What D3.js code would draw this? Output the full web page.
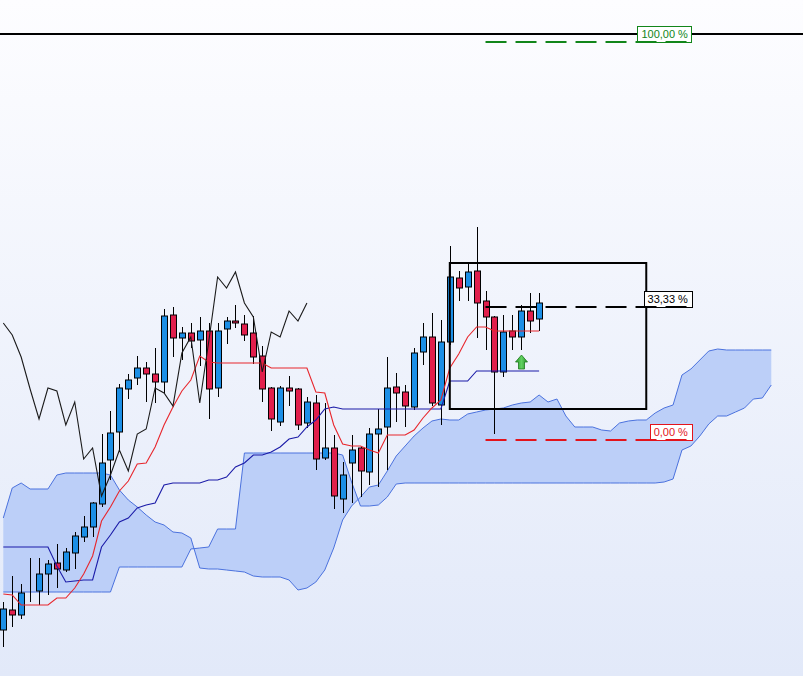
<!DOCTYPE html>
<html>
<head>
<meta charset="utf-8">
<script src="https://cdn.jsdelivr.net/npm/d3@7"></script>
<style>
  html, body { margin: 0; padding: 0; background: #fff; }
  svg { display: block; }
</style>
</head>
<body>
<div id="chart"></div>
<script>
/* ─────────────────────────────────────────────────────────
   DATA  (prices, one entry per period)
───────────────────────────────────────────────────────── */
const opens = [7.0, 9.0, 8.5, 11.5, 10.9, 12.6, 13.7, 13.0, 14.7, 16.3,
  17.3, 19.6, 24.0, 26.8, 31.1, 32.2, 33.2, 32.6, 31.8, 38.5,
  36.2, 36.7, 36.0, 36.9, 31.2, 37.1, 37.9, 37.6, 36.7, 34.4,
  31.2, 27.8, 31.2, 31.1, 27.7, 29.7, 24.2, 25.2, 20.1, 23.7,
  25.2, 22.8, 26.6, 27.3, 31.3, 30.8, 29.3, 34.8, 36.3, 29.5,
  35.8, 42.2, 41.3, 42.9, 39.9, 38.3, 32.8, 36.9, 36.3, 38.9,
  38.1];
const highs = [9.8, 12.4, 11.6, 14.2, 14.2, 14.0, 15.6, 15.2, 16.8, 18.4,
  19.8, 26.6, 28.9, 31.6, 32.6, 34.4, 33.8, 35.2, 39.1, 39.3,
  37.3, 37.7, 38.3, 37.7, 37.7, 38.3, 39.5, 38.5, 38.4, 35.4,
  31.3, 31.4, 32.4, 31.2, 30.3, 30.5, 29.7, 26.5, 23.8, 26.5,
  25.3, 27.2, 29.1, 34.3, 32.7, 31.5, 35.2, 37.7, 38.7, 38.0,
  45.4, 42.9, 43.7, 47.3, 40.9, 38.4, 38.5, 38.5, 39.5, 40.7,
  40.7];
const lows = [5.3, 7.3, 8.1, 9.8, 9.5, 10.5, 11.2, 12.8, 13.1, 15.8,
  16.3, 19.3, 22.0, 24.8, 30.1, 31.5, 29.8, 29.7, 30.7, 34.3,
  34.0, 35.2, 33.4, 28.1, 30.3, 35.6, 37.2, 35.9, 33.6, 29.8,
  26.9, 27.4, 29.4, 27.0, 27.2, 23.0, 24.0, 19.1, 18.7, 19.7,
  20.3, 21.5, 21.3, 23.0, 27.8, 27.3, 29.0, 33.5, 29.4, 27.5,
  35.5, 39.9, 39.9, 36.2, 35.0, 26.6, 32.3, 35.0, 35.0, 36.7,
  36.9];
const closes = [9.1, 8.5, 10.7, 11.5, 12.6, 13.6, 13.1, 14.8, 16.4, 17.3,
  19.7, 23.7, 26.7, 31.2, 32.0, 33.2, 32.6, 31.8, 38.4, 36.2,
  36.7, 35.9, 36.9, 31.1, 36.9, 37.9, 37.7, 36.5, 34.3, 31.1,
  28.1, 31.2, 30.9, 27.5, 29.8, 24.1, 25.2, 20.4, 22.5, 25.0,
  22.9, 26.6, 27.1, 31.2, 30.7, 29.4, 34.7, 36.3, 29.7, 35.8,
  42.3, 41.2, 42.8, 39.7, 38.3, 32.8, 36.8, 36.3, 38.9, 37.9,
  39.7];

// Tenkan-sen / Kijun-sen, one value per candle
const tenkan = [10.6, 10.5, 9.5, 9.5, 9.5, 9.5, 10.2, 10.2, 11.2, 12.6,
  14.4, 17.9, 19.3, 20.9, 21.9, 23.6, 23.7, 25.3, 27.5, 29.3,
  30.9, 32.0, 34.4, 33.8, 33.7, 33.7, 33.7, 33.7, 33.7, 33.7,
  33.2, 33.2, 33.2, 33.2, 33.2, 30.8, 30.7, 27.5, 25.6, 25.4,
  25.4, 25.0, 24.7, 26.5, 26.5, 26.5, 27.0, 28.2, 29.2, 30.0,
  33.2, 34.6, 36.3, 37.3, 37.3, 36.9, 36.9, 36.9, 36.9, 36.9,
  36.9];
const kijun = [15.3, 15.3, 15.3, 15.3, 15.3, 15.3, 13.4, 11.8, 11.9, 12.0,
  12.0, 15.3, 16.5, 17.8, 18.2, 19.2, 19.5, 19.7, 21.5, 21.7,
  21.7, 21.7, 21.7, 22.0, 22.0, 22.3, 23.3, 23.7, 24.5, 24.5,
  24.8, 25.3, 26.1, 26.3, 27.3, 28.0, 29.1, 29.3, 29.1, 29.1,
  29.1, 29.1, 29.1, 29.1, 29.1, 29.1, 29.1, 29.1, 29.1, 29.1,
  31.9, 31.9, 31.9, 32.9, 32.9, 32.9, 32.9, 32.9, 32.9, 32.9,
  32.9];

// Senkou spans as plotted (already 26 periods ahead), periods 0..86
const senkouA = [18.2, 21.2, 21.7, 21.1, 21.1, 21.1, 22.5, 22.7, 22.7, 22.7,
  22.7, 22.7, 22.5, 21.0, 20.0, 19.3, 18.5, 17.8, 17.5, 16.8,
  16.7, 16.2, 13.2, 13.1, 13.1, 13.0, 12.9, 12.8, 12.4, 12.3,
  12.3, 12.3, 12.0, 11.0, 11.2, 11.8, 13.0, 15.2, 18.0, 19.4,
  20.3, 21.3, 21.5, 22.9, 24.4, 25.4, 26.4, 27.2, 27.9, 28.1,
  28.0, 28.0, 28.6, 28.8, 29.0, 29.1, 29.2, 29.5, 29.7, 29.8,
  30.5, 29.8, 30.1, 28.4, 27.3, 27.3, 27.3, 27.0, 26.9, 27.7,
  27.9, 28.0, 28.0, 28.7, 29.2, 29.5, 32.5, 33.1, 34.0, 34.9,
  35.1, 35.0, 35.0, 35.0, 35.0, 35.0, 35.0];
const senkouB = [10.8, 10.8, 10.8, 10.8, 10.8, 10.8, 10.8, 10.8, 10.8, 10.8,
  10.8, 10.8, 10.8, 13.3, 13.3, 13.3, 13.3, 13.3, 13.3, 13.3,
  13.3, 15.1, 15.2, 15.3, 17.1, 17.1, 17.1, 24.7, 24.7, 24.7,
  24.7, 24.7, 24.7, 24.7, 24.7, 24.7, 24.7, 24.7, 24.5, 21.8,
  19.4, 19.4, 19.5, 20.3, 21.6, 21.7, 21.7, 21.7, 21.7, 21.7,
  21.7, 21.7, 21.7, 21.7, 21.7, 21.7, 21.7, 21.7, 21.7, 21.7,
  21.7, 21.7, 21.7, 21.7, 21.7, 21.7, 21.7, 21.7, 21.7, 21.7,
  21.7, 21.7, 21.7, 21.7, 21.8, 22.1, 25.0, 25.4, 26.4, 27.6,
  28.4, 28.4, 28.8, 29.2, 30.1, 30.2, 31.5];

const CHIKOU_SHIFT = 26;          // chikou = close plotted 26 periods back

// Fibonacci retracement drawn from the swing
const fibRatios = [1, 0.3333, 0];
const fibLabels = ["100,00 %", "33,33 %", "0,00 %"];
const fibLow = 26.0, fibHigh = 65.8;
const fibFrom = 54, fibTo = 77;

// Box around the consolidation, horizontal level, buy signal
const boxFrom = 50, boxTo = 72, boxTop = 43.7, boxBottom = 29.1;
const levelPrice = 66.6;
const signalAt = 58, signalPrice = 33.0;

/* ─────────────────────────────────────────────────────────
   CHART
───────────────────────────────────────────────────────── */
const W = 803, H = 676;
const x = d3.scaleLinear().domain([0, 60]).range([3.3, 539.1]);
const y = d3.scaleLinear().domain([0, 70]).range([700, 0]);
const px = v => Math.round(v) + 0.5;

const svg = d3.select("#chart").append("svg")
  .attr("width", W).attr("height", H);

const defs = svg.append("defs");
const bg = defs.append("linearGradient").attr("id", "bg")
  .attr("x1", 0).attr("y1", 0).attr("x2", 0).attr("y2", 1);
bg.append("stop").attr("offset", "0%").attr("stop-color", "#fdfdff");
bg.append("stop").attr("offset", "100%").attr("stop-color", "#e2e9f9");
const ag = defs.append("linearGradient").attr("id", "arrowFill")
  .attr("x1", 0).attr("y1", 0).attr("x2", 1).attr("y2", 0);
ag.append("stop").attr("offset", "0%").attr("stop-color", "#2e9a2e");
ag.append("stop").attr("offset", "50%").attr("stop-color", "#5fd05f");
ag.append("stop").attr("offset", "100%").attr("stop-color", "#2a8f2a");

svg.append("rect").attr("width", W).attr("height", H).attr("fill", "url(#bg)");

// Kumo
const cloudIdx = d3.range(senkouA.length);
svg.append("path").datum(cloudIdx)
  .attr("fill", "#bccff8")
  .attr("d", d3.area().x(i => x(i)).y0(i => y(senkouA[i])).y1(i => y(senkouB[i])));
[senkouA, senkouB].forEach(s => {
  svg.append("path").datum(cloudIdx)
    .attr("fill", "none").attr("stroke", "#4b72de").attr("stroke-width", 1)
    .attr("d", d3.line().x(i => x(i)).y(i => y(s[i])));
});

// Candles
const candles = opens.map((o, i) => ({ i, o, h: highs[i], l: lows[i], c: closes[i] }));
const cg = svg.append("g");
cg.selectAll("line").data(candles).join("line")
  .attr("x1", d => px(x(d.i))).attr("x2", d => px(x(d.i)))
  .attr("y1", d => y(d.h)).attr("y2", d => y(d.l))
  .attr("stroke", "#000").attr("stroke-width", 1);
cg.selectAll("rect").data(candles).join("rect")
  .attr("x", d => px(x(d.i)) - 3)
  .attr("width", 6)
  .attr("y", d => y(Math.max(d.o, d.c)))
  .attr("height", d => Math.abs(y(d.o) - y(d.c)))
  .attr("fill", d => d.c >= d.o ? "#1c8fe6" : "#e11f4c")
  .attr("stroke", "#000").attr("stroke-width", 1);

// Kijun, Tenkan, Chikou
const lineOf = arr => d3.line().x((v, i) => x(i)).y(v => y(v))(arr);
svg.append("path").attr("fill", "none").attr("stroke", "#1b1ba8").attr("stroke-width", 1.1)
  .attr("d", lineOf(kijun));
svg.append("path").attr("fill", "none").attr("stroke", "#e8262c").attr("stroke-width", 1.1)
  .attr("d", lineOf(tenkan));
svg.append("path").attr("fill", "none").attr("stroke", "#1a1a1a").attr("stroke-width", 1.1)
  .attr("d", lineOf(closes.slice(CHIKOU_SHIFT)));

// Box
svg.append("rect")
  .attr("x", x(boxFrom)).attr("y", y(boxTop))
  .attr("width", x(boxTo) - x(boxFrom)).attr("height", y(boxBottom) - y(boxTop))
  .attr("fill", "none").attr("stroke", "#000").attr("stroke-width", 2);

// Horizontal level
svg.append("line")
  .attr("x1", 0).attr("x2", W)
  .attr("y1", y(levelPrice)).attr("y2", y(levelPrice))
  .attr("stroke", "#000").attr("stroke-width", 2);

// Fibonacci levels
const fibColors = ["#12861a", "#000000", "#e3141c"];
fibRatios.forEach((r, k) => {
  const ly = Math.round(y(fibLow + r * (fibHigh - fibLow)));
  const right = x(fibTo) + 1;
  const t = svg.append("text")
    .attr("x", right - 4).attr("y", ly - 4)
    .attr("text-anchor", "end")
    .attr("font-family", "'Liberation Sans', Arial, sans-serif")
    .attr("font-size", "11px")
    .attr("fill", fibColors[k])
    .text(fibLabels[k]);
  const tw = t.node().getComputedTextLength();
  svg.insert("rect", () => t.node())
    .attr("x", Math.round(right - tw - 8) + 0.5).attr("y", ly - 15.5)
    .attr("width", Math.round(tw + 8)).attr("height", 16)
    .attr("fill", "#fff").attr("stroke", fibColors[k]).attr("stroke-width", 1);
  svg.insert("line", () => t.node())
    .attr("x1", x(fibFrom)).attr("x2", x(fibTo) - 2)
    .attr("y1", ly).attr("y2", ly)
    .attr("stroke", fibColors[k]).attr("stroke-width", 2)
    .attr("stroke-dasharray", "21,9");
});

// Buy signal arrow
const ax = px(x(signalAt)), ay = y(signalPrice) - 1;
svg.append("path")
  .attr("d", `M${ax - 3},${ay} L${ax - 3},${ay - 7} L${ax - 6},${ay - 7} L${ax},${ay - 14} L${ax + 6},${ay - 7} L${ax + 3},${ay - 7} L${ax + 3},${ay} Z`)
  .attr("fill", "url(#arrowFill)").attr("stroke", "#1c7a1c").attr("stroke-width", 0.8);
</script>
</body>
</html>
